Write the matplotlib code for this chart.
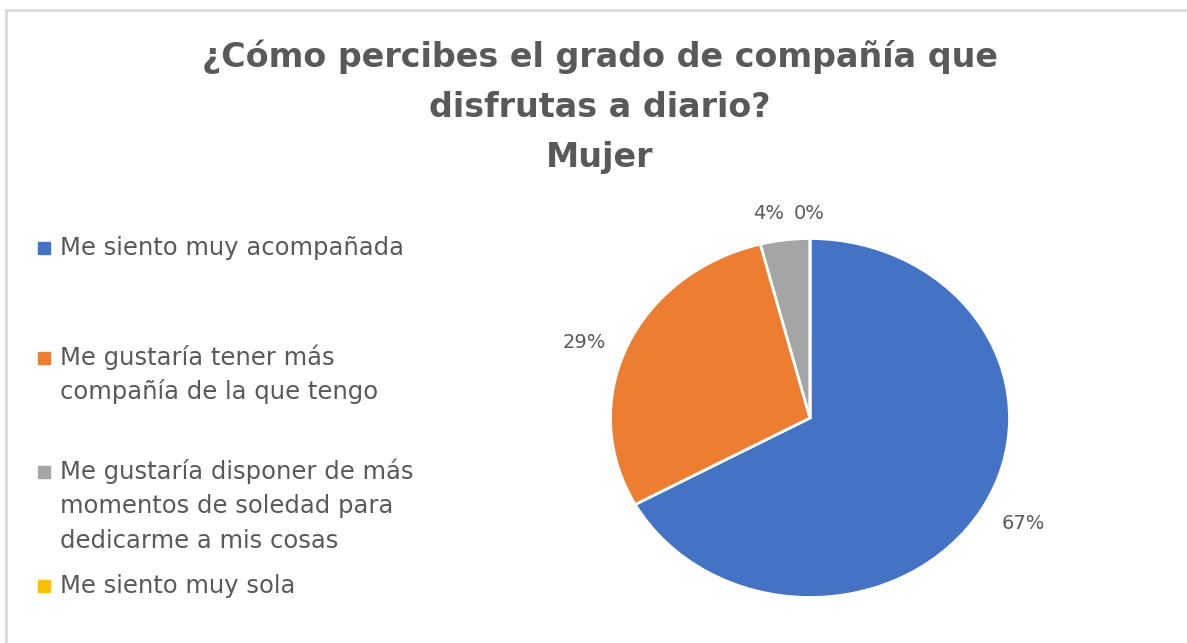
import matplotlib
matplotlib.use('Agg')
import matplotlib.pyplot as plt
from matplotlib.patches import Rectangle
from matplotlib.lines import Line2D

plt.rcParams['font.family'] = ['DejaVu Sans']

title = '¿Cómo percibes el grado de compañía que\ndisfrutas a diario?\nMujer'
categories = ['Me siento muy acompañada',
              'Me gustaría tener más\ncompañía de la que tengo',
              'Me gustaría disponer de más\nmomentos de soledad para\ndedicarme a mis cosas',
              'Me siento muy sola']
values = [67, 29, 4, 0]
colors = ['#4472C4', '#ED7D31', '#A5A5A5', '#FFC000']
text_color = '#595959'

W, H = 1187, 643
fig = plt.figure(figsize=(W / 100, H / 100), dpi=100)

def fx(x):
    return x / W

def fy(y):
    return 1 - y / H

# light frame (top and left visible, rest cropped)
fig.add_artist(Line2D([fx(6), 1.0], [fy(10), fy(10)], color='#D9D9D9', lw=2))
fig.add_artist(Line2D([fx(6), fx(6)], [fy(10), 0.0], color='#D9D9D9', lw=2))

# title, one line at a time
for i, line in enumerate(title.split('\n')):
    fig.text(fx(600), fy(67 + 50 * i), line, ha='center', va='baseline', fontsize=24,
             fontweight='bold', color=text_color)

# pie (the source screenshot is stretched sideways, so the pie is a bit oval)
cx, cy, rx, ry = 810, 418, 199.5, 179.5
ax = fig.add_axes([fx(cx - rx), fy(cy + ry), 2 * rx / W, 2 * ry / H])
wedges, texts, autotexts = ax.pie(values, colors=colors, startangle=90, counterclock=False,
                                  autopct='%.0f%%', pctdistance=1.28,
                                  wedgeprops=dict(edgecolor='white', linewidth=2),
                                  textprops=dict(color=text_color, fontsize=14))
ax.set_aspect('auto')
ax.set_xlim(-1, 1)
ax.set_ylim(-1, 1)
# Excel "best fit" label placement
label_pos = [(1.07, -0.59), (-1.13, 0.42), (-0.21, 1.14), (-0.005, 1.14)]
for t, p in zip(autotexts, label_pos):
    t.set_position(p)

# legend, drawn by hand to keep Excel's spacing
legend_base = [255, 365, 479, 593]
for lab, col, y in zip(categories, colors, legend_base):
    fig.add_artist(Rectangle((fx(38), fy(y - 1)), 12 / W, 12 / H, color=col,
                             transform=fig.transFigure))
    for j, line in enumerate(lab.split('\n')):
        fig.text(fx(60), fy(y + 34.5 * j), line, ha='left', va='baseline', fontsize=17.5,
                 color=text_color)

fig.savefig('out.png', dpi=100)
